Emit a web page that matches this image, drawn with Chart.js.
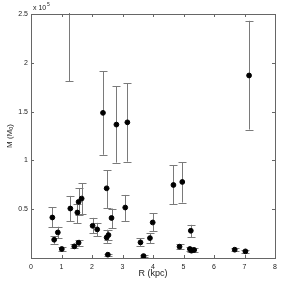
<!DOCTYPE html>
<html lang="en">
<head>
<meta charset="utf-8">
<script src="https://cdn.jsdelivr.net/npm/chart.js@4"></script>
<style>
    body { margin: 0; background: #fff; }
    #wrap { width: 286px; height: 281px; }
</style>
</head>
<body>
<div id="wrap"><canvas id="massChart" width="286" height="281"></canvas></div>

<script>
    // radius (kpc) and mass in units of 1e5 Msun, with error bar ends
    const radius = [0.70, 0.76, 0.88, 1.01, 1.26, 1.29, 1.42, 1.52, 1.56, 1.56, 1.66, 2.02, 2.17, 2.36, 2.48, 2.48, 2.54, 2.52, 2.64, 2.80, 3.09, 3.16, 3.59, 3.69, 3.90, 3.99, 4.67, 4.87, 4.96, 5.21, 5.24, 5.26, 5.35, 6.68, 7.03, 7.15];
    const mass   = [0.415, 0.187, 0.262, 0.092, 3.30, 0.507, 0.119, 0.466, 0.156, 0.575, 0.609, 0.330, 0.293, 1.487, 0.714, 0.210, 0.235, 0.034, 0.410, 1.367, 0.517, 1.390, 0.160, 0.020, 0.204, 0.364, 0.748, 0.116, 0.779, 0.092, 0.279, 0.075, 0.082, 0.085, 0.068, 1.870];
    const massLo = [0.313, 0.146, 0.204, 0.075, 1.81, 0.378, 0.099, 0.354, 0.126, 0.436, 0.446, 0.252, 0.221, 1.058, 0.513, 0.156, 0.185, 0.024, 0.303, 0.977, 0.380, 0.987, 0.126, 0.012, 0.153, 0.272, 0.551, 0.089, 0.568, 0.072, 0.211, 0.060, 0.066, 0.072, 0.056, 1.316];
    const massHi = [0.520, 0.221, 0.320, 0.109, 4.80, 0.636, 0.146, 0.554, 0.187, 0.717, 0.768, 0.411, 0.360, 1.915, 0.900, 0.290, 0.285, 0.044, 0.507, 1.762, 0.646, 1.790, 0.200, 0.028, 0.252, 0.456, 0.952, 0.143, 0.983, 0.110, 0.340, 0.090, 0.098, 0.099, 0.080, 2.430];
    const xTicks = [0, 1, 2, 3, 4, 5, 6, 7, 8];
    const yTicks = [0.5, 1, 1.5, 2, 2.5];

    const points = radius.map((r, i) => ({ x: r, y: mass[i] }));

    const axisColor = '#666';
    const font = 'Liberation Sans, Arial, sans-serif';

    // error bars, box frame, inward ticks and the exponent label
    const errorBars = {
        id: 'errorBars',
        beforeDatasetsDraw(chart) {
            const { ctx, chartArea, scales: { x, y } } = chart;
            ctx.save();
            ctx.beginPath();
            ctx.rect(chartArea.left, chartArea.top - 1, chartArea.width, chartArea.height + 2);
            ctx.clip();
            ctx.strokeStyle = '#7a7a7a';
            ctx.lineWidth = 1;
            radius.forEach((r, i) => {
                const px = Math.round(x.getPixelForValue(r)) + 0.5;
                const top = y.getPixelForValue(massHi[i]);
                const bot = y.getPixelForValue(massLo[i]);
                ctx.beginPath();
                ctx.moveTo(px, top);
                ctx.lineTo(px, bot);
                ctx.moveTo(px - 4, Math.round(top) + 0.5);
                ctx.lineTo(px + 4, Math.round(top) + 0.5);
                ctx.moveTo(px - 4, Math.round(bot) + 0.5);
                ctx.lineTo(px + 4, Math.round(bot) + 0.5);
                ctx.stroke();
            });
            ctx.restore();
        },
        afterDraw(chart) {
            const { ctx, chartArea: a, scales: { x, y } } = chart;
            ctx.save();
            ctx.strokeStyle = axisColor;
            ctx.lineWidth = 1;
            ctx.strokeRect(Math.round(a.left) + 0.5, Math.round(a.top) + 0.5, Math.round(a.width), Math.round(a.height));
            ctx.beginPath();
            xTicks.forEach(v => {
                const px = Math.round(x.getPixelForValue(v)) + 0.5;
                ctx.moveTo(px, a.bottom); ctx.lineTo(px, a.bottom - 3);
                ctx.moveTo(px, a.top); ctx.lineTo(px, a.top + 3);
            });
            yTicks.forEach(v => {
                const py = Math.round(y.getPixelForValue(v)) + 0.5;
                ctx.moveTo(a.left, py); ctx.lineTo(a.left + 3, py);
                ctx.moveTo(a.right, py); ctx.lineTo(a.right - 3, py);
            });
            ctx.stroke();
            ctx.fillStyle = '#222';
            ctx.font = '7px ' + font;
            ctx.textBaseline = 'alphabetic';
            ctx.fillText('x 10', a.left + 2, a.top - 4);
            ctx.font = '5px ' + font;
            ctx.fillText('5', a.left + 16, a.top - 8);
            ctx.restore();
        }
    };

    new Chart(document.getElementById('massChart'), {
        type: 'scatter',
        data: {
            datasets: [{
                data: points,
                backgroundColor: '#000',
                borderColor: '#000',
                pointRadius: 2.4,
                pointHoverRadius: 2.4
            }]
        },
        options: {
            responsive: false,
            animation: false,
            layout: { padding: { top: 14, right: 11, left: 0, bottom: 0 } },
            plugins: { legend: { display: false }, tooltip: { enabled: false } },
            scales: {
                x: {
                    type: 'linear',
                    min: 0, max: 8,
                    afterBuildTicks: s => { s.ticks = xTicks.map(v => ({ value: v })); },
                    afterFit: s => { s.height = 23; },
                    grid: { display: false, drawTicks: false },
                    border: { display: false },
                    ticks: { color: '#222', font: { family: font, size: 7 }, padding: 5, callback: v => String(v) },
                    title: { display: true, text: 'R (kpc)', color: '#222', font: { family: font, size: 9 }, padding: { top: 0, bottom: 2 } }
                },
                y: {
                    type: 'linear',
                    min: 0, max: 2.5,
                    afterBuildTicks: s => { s.ticks = yTicks.map(v => ({ value: v })); },
                    afterFit: s => { s.width = 31; },
                    grid: { display: false, drawTicks: false },
                    border: { display: false },
                    ticks: { color: '#222', font: { family: font, size: 7 }, padding: 3, callback: v => String(v) },
                    title: { display: true, text: 'M (M\u2092)', color: '#222', font: { family: font, size: 8 }, padding: { top: 5, bottom: 4 } }
                }
            }
        },
        plugins: [errorBars]
    });
</script>
</body>
</html>
